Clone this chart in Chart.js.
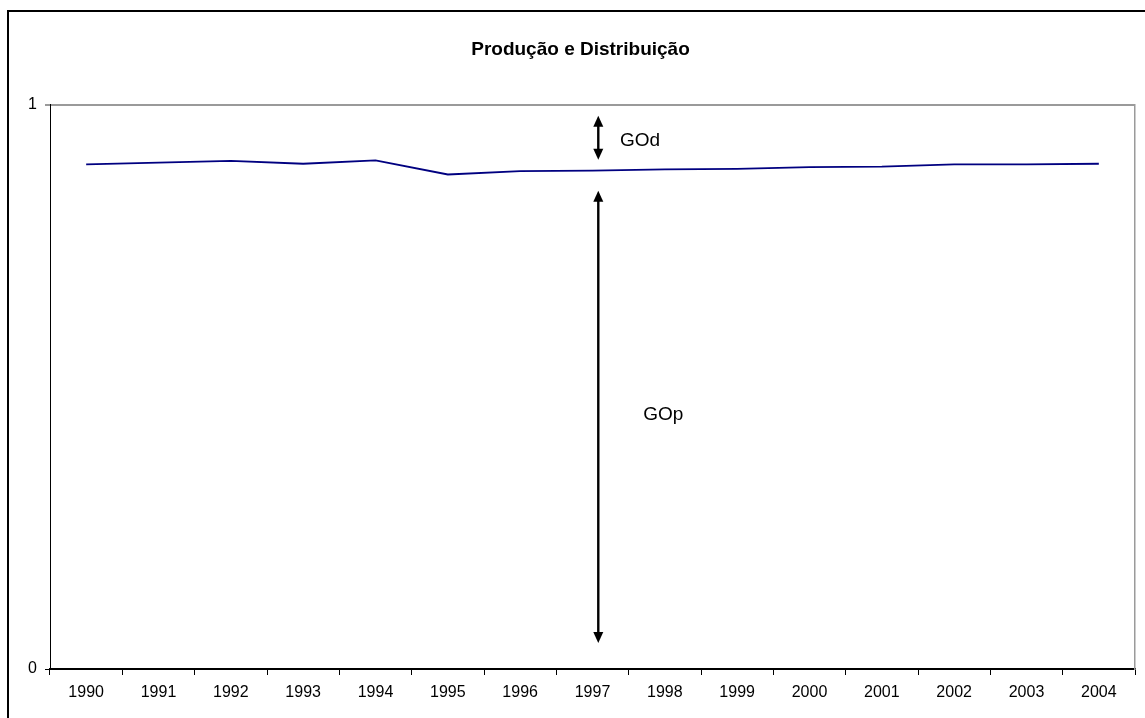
<!DOCTYPE html>
<html>
<head>
<meta charset="utf-8">
<title>Produção e Distribuição</title>
<script src="https://cdn.jsdelivr.net/npm/chart.js@4/dist/chart.umd.min.js"></script>
<style>
  html, body { margin: 0; padding: 0; background: #fff; overflow: hidden; }
  canvas { display: block; }
</style>
</head>
<body>
<canvas id="grafico" width="1145" height="718"></canvas>
<script>
var anos = ['1990','1991','1992','1993','1994','1995','1996','1997','1998','1999','2000','2001','2002','2003','2004'];
var valores = [0.894, 0.897, 0.900, 0.895, 0.901, 0.876, 0.882, 0.883, 0.885, 0.886, 0.889, 0.890, 0.894, 0.894, 0.895];

// setas de anotação: [posição no eixo x (índice), valor inicial, valor final]
var setaGOd = [7.08, 0.98, 0.902];
var setaGOp = [7.08, 0.847, 0.046];
// rótulos: [texto, índice x, valor y]
var rotulos = [['GOd', 7.38, 0.935], ['GOp', 7.70, 0.45]];

Chart.defaults.font.family = '"Liberation Sans", Arial, sans-serif';
Chart.defaults.color = '#000';

function desenhaSeta(ctx, x, y1, y2) {
  var dir = y2 > y1 ? 1 : -1;
  var h = 11, w = 5;
  ctx.beginPath();
  ctx.moveTo(x, y1 + dir * h * 0.8);
  ctx.lineTo(x, y2 - dir * h * 0.8);
  ctx.stroke();
  [[y1, -dir], [y2, dir]].forEach(function (p) {
    ctx.beginPath();
    ctx.moveTo(x, p[0]);
    ctx.lineTo(x - w, p[0] - p[1] * h);
    ctx.lineTo(x + w, p[0] - p[1] * h);
    ctx.closePath();
    ctx.fill();
  });
}

var molduraESetas = {
  id: 'molduraESetas',
  afterDraw: function (chart) {
    var ctx = chart.ctx;
    var sx = chart.scales.x, sy = chart.scales.y;
    ctx.save();
    // moldura externa
    ctx.strokeStyle = '#000';
    ctx.lineWidth = 2;
    ctx.strokeRect(8, 11, 1200, 800);
    // setas
    ctx.lineWidth = 2.4;
    ctx.fillStyle = '#000';
    [setaGOd, setaGOp].forEach(function (s) {
      desenhaSeta(ctx, sx.getPixelForValue(s[0]), sy.getPixelForValue(s[1]), sy.getPixelForValue(s[2]));
    });
    ctx.font = '19px "Liberation Sans", Arial, sans-serif';
    ctx.textBaseline = 'middle';
    ctx.textAlign = 'left';
    rotulos.forEach(function (r) {
      ctx.fillText(r[0], sx.getPixelForValue(r[1]), sy.getPixelForValue(r[2]));
    });
    ctx.restore();
  }
};

new Chart(document.getElementById('grafico'), {
  type: 'line',
  data: {
    labels: anos,
    datasets: [{
      data: valores,
      borderColor: '#000080',
      borderWidth: 1.8,
      pointRadius: 0,
      tension: 0,
      fill: false
    }]
  },
  options: {
    responsive: false,
    animation: false,
    devicePixelRatio: 1,
    layout: { padding: { left: 16, right: 0, top: 0, bottom: 0 } },
    plugins: {
      legend: { display: false },
      tooltip: { enabled: false },
      title: {
        display: true,
        text: 'Produção e Distribuição',
        font: { size: 19, weight: 'bold' },
        color: '#000',
        padding: { top: 38.6, bottom: 43.1 }
      }
    },
    scales: {
      x: {
        offset: true,
        grid: {
          offset: true,
          drawOnChartArea: false,
          tickLength: 6,
          tickColor: '#000',
          lineWidth: 1
        },
        border: { color: '#000', width: 1.5 },
        ticks: { font: { size: 16 }, color: '#000', padding: 8, maxRotation: 0, autoSkip: false },
        afterFit: function (scale) { scale.height = 49; }
      },
      y: {
        min: 0,
        max: 1,
        grid: {
          color: function (c) { return c.tick && c.tick.value === 0 ? '#000' : '#9a9a9a'; },
          lineWidth: function (c) { return c.tick && c.tick.value === 0 ? 1 : 2; },
          tickLength: 5
        },
        border: { color: '#000', width: 1 },
        ticks: { stepSize: 1, font: { size: 16 }, color: '#000', padding: 8 },
        afterFit: function (scale) { scale.width = 34; }
      },
      // eixo auxiliar só para a borda cinza à direita
      y2: {
        position: 'right',
        min: 0,
        max: 1,
        grid: { display: false },
        ticks: { display: false },
        border: { display: true, color: '#9a9a9a', width: 1.5 },
        afterFit: function (scale) { scale.width = 10; }
      }
    }
  },
  plugins: [molduraESetas]
});
</script>
</body>
</html>
